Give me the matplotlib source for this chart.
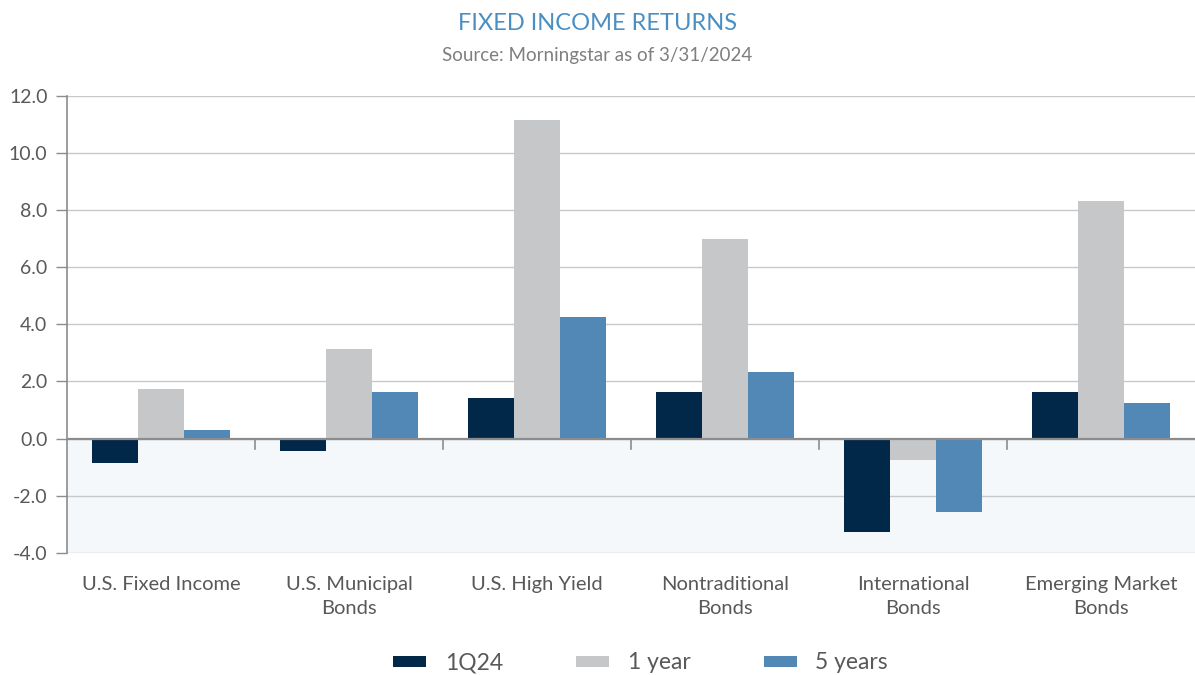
import numpy as np
import matplotlib.pyplot as plt
from matplotlib.patches import Rectangle

categories = ["U.S. Fixed Income", "U.S. Municipal\nBonds", "U.S. High Yield",
              "Nontraditional\nBonds", "International\nBonds", "Emerging Market\nBonds"]
q1_24 = [-0.85, -0.42, 1.42, 1.62, -3.28, 1.62]
one_year = [1.72, 3.13, 11.16, 6.98, -0.75, 8.33]
five_years = [0.31, 1.62, 4.25, 2.32, -2.58, 1.25]
series_names = ["1Q24", "1 year", "5 years"]
colors = ["#022849", "#c6c7c9", "#5288b6"]
yticks = [-4, -2, 0, 2, 4, 6, 8, 10, 12]

plt.rcParams['font.family'] = ['Lato', 'DejaVu Sans']
text_gray = "#595959"

fig = plt.figure(figsize=(11.95, 6.75), dpi=100)
ax = fig.add_axes([0.056, 0.181, 0.944, 0.677])

x = np.arange(len(categories))
w = 0.245
for i, (vals, name, c) in enumerate(zip([q1_24, one_year, five_years], series_names, colors)):
    ax.bar(x + (i - 1) * w, vals, width=w, color=c, label=name, zorder=3)

ax.set_xlim(-0.5, len(categories) - 0.5)
ax.set_ylim(-4, 12)

# light shading for negative region
ax.add_patch(Rectangle((-0.5, -4), len(categories), 4, color="#f4f8fb", zorder=0, lw=0))

ax.set_yticks(yticks)
ax.set_yticklabels([f"{v:.1f}" for v in yticks])
ax.yaxis.grid(True, color="#c8c8c8", lw=1, zorder=1)
ax.set_axisbelow(True)
ax.axhline(0, color="#8c8c8c", lw=1.6, zorder=4)

ax.set_xticks(x)
ax.set_xticklabels(categories)
ax.tick_params(axis='x', length=0, labelsize=14.5, colors=text_gray, pad=17)
ax.tick_params(axis='y', length=8, width=1, color="#8c8c8c", labelsize=14,
               colors=text_gray, pad=6)
for lab in ax.get_xticklabels():
    lab.set_linespacing(1.45)

# small separator ticks on the zero line between groups
for b in x[:-1] + 0.5:
    ax.plot([b, b], [0, -0.35], color="#8c8c8c", lw=1.2, zorder=4, clip_on=False)

for s in ["top", "right", "bottom"]:
    ax.spines[s].set_visible(False)
ax.spines["left"].set_color("#8c8c8c")
ax.spines["left"].set_linewidth(1.2)

fig.text(0.5, 0.965, "FIXED INCOME RETURNS", ha="center", va="center",
         fontsize=17, color="#4a8fc4")
fig.text(0.5, 0.918, "Source: Morningstar as of 3/31/2024", ha="center", va="center",
         fontsize=13.5, color="#7f7f7f")

leg = fig.legend(loc="center", bbox_to_anchor=(0.536, 0.018), ncol=3, frameon=False,
                 fontsize=16.5, handlelength=1.45, handleheight=0.35, columnspacing=3.2,
                 handletextpad=0.8)
for t in leg.get_texts():
    t.set_color(text_gray)

fig.savefig("out.png", dpi=100)
